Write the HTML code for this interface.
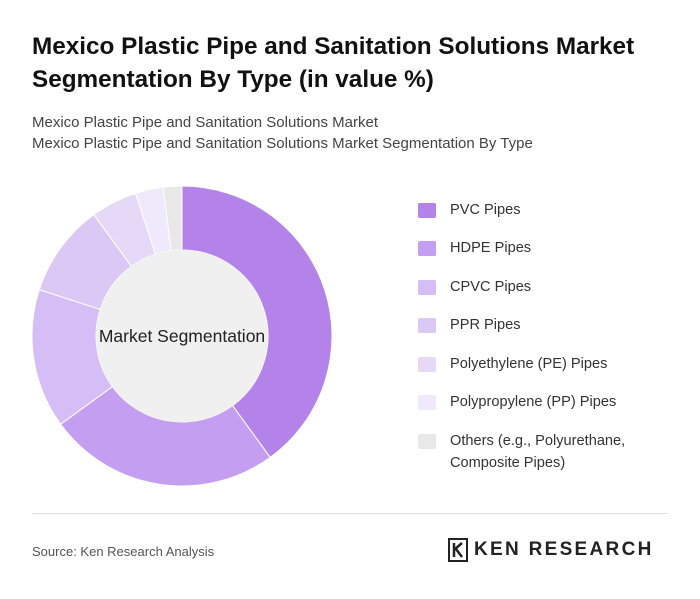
<!DOCTYPE html>
<html><head><meta charset="utf-8"><style>
body{margin:0;background:#fff;font-family:"Liberation Sans",sans-serif;}
#root{position:relative;width:700px;height:599px;overflow:hidden;background:#fff;}
h1{position:absolute;left:32px;top:30px;margin:0;font-size:24.3px;line-height:33px;font-weight:bold;color:#111;width:650px;}
.sub{position:absolute;left:32px;font-size:15px;color:#444;}
.leg{position:absolute;left:418px;font-size:14.6px;color:#333;line-height:22px;}
.sw{position:absolute;left:0;top:4px;width:18px;height:15px;border-radius:2px;}
.leg span.t{margin-left:32px;display:block;}
</style></head><body>
<div id="root">
<h1>Mexico Plastic Pipe and Sanitation Solutions Market Segmentation By Type (in value %)</h1>
<div class="sub" style="top:114px">Mexico Plastic Pipe and Sanitation Solutions Market</div>
<div class="sub" style="top:135px">Mexico Plastic Pipe and Sanitation Solutions Market Segmentation By Type</div>
<svg id="donut" width="700" height="599" style="position:absolute;left:0;top:0"></svg>
<div id="legend"></div>
<div style="position:absolute;left:32px;top:513px;width:636px;height:1px;background:#ddd"></div>
<div style="position:absolute;left:32px;top:544px;font-size:13px;color:#555">Source: Ken Research Analysis</div>
<div style="position:absolute;left:448px;top:538px;height:24px;display:flex;align-items:center">
<svg width="20" height="24"><rect x="1" y="1" width="18" height="22" fill="none" stroke="#222" stroke-width="2"/><path d="M6 5V19M6 12L14 5M8 11L14 19" stroke="#222" stroke-width="2.5" fill="none"/></svg>
<span style="margin-left:6px;font-size:19px;font-weight:bold;color:#222;letter-spacing:2.3px">KEN RESEARCH</span></div>
</div>
<script>
const categories=["PVC Pipes","HDPE Pipes","CPVC Pipes","PPR Pipes","Polyethylene (PE) Pipes","Polypropylene (PP) Pipes","Others (e.g., Polyurethane, Composite Pipes)"];
const values=[40,25,15,10,5,3,2];
const colors=["#b383ea","#c49ef0","#d5bdf5","#dcc8f5","#e6d9f8","#f0e8fb","#e8e8e8"];
const svg=document.getElementById('donut');
const NS="http://www.w3.org/2000/svg";
const cx=182,cy=336,R=150,r=86;
const total=values.reduce((a,b)=>a+b,0);
function pt(a,rad){return [cx+rad*Math.sin(a),cy-rad*Math.cos(a)];}
let acc=0;
values.forEach((v,i)=>{
 const a0=acc/total*2*Math.PI;acc+=v;const a1=acc/total*2*Math.PI;
 const lg=(a1-a0)>Math.PI?1:0;
 const [x0,y0]=pt(a0,R),[x1,y1]=pt(a1,R),[x2,y2]=pt(a1,r),[x3,y3]=pt(a0,r);
 const p=document.createElementNS(NS,'path');
 p.setAttribute('d',`M${x0},${y0}A${R},${R} 0 ${lg} 1 ${x1},${y1}L${x2},${y2}A${r},${r} 0 ${lg} 0 ${x3},${y3}Z`);
 p.setAttribute('fill',colors[i]);p.setAttribute('stroke','#fff');p.setAttribute('stroke-width','1');
 
 
 svg.appendChild(p);
});
const c=document.createElementNS(NS,'circle');
c.setAttribute('cx',cx);c.setAttribute('cy',cy);c.setAttribute('r',r);c.setAttribute('fill','#f0f0f0');


svg.appendChild(c);
const t=document.createElementNS(NS,'text');
t.setAttribute('x',cx);t.setAttribute('y',cy+6);t.setAttribute('text-anchor','middle');
t.setAttribute('font-size','17.5');t.setAttribute('fill','#222');t.setAttribute('font-family','Liberation Sans, sans-serif');
t.textContent='Market Segmentation';


svg.appendChild(t);
const lg=document.getElementById('legend');
const tops=[199,237,276,314,353,391,430];
categories.forEach((n,i)=>{
 const d=document.createElement('div');d.className='leg';d.style.top=tops[i]+'px';
 d.style.width='260px';
 d.innerHTML='<div class="sw" style="background:'+colors[i]+'"></div><span class="t">'+(i==6?'Others (e.g., Polyurethane,<br>Composite Pipes)':n)+'</span>';
 
 
 lg.appendChild(d);
});
</script>
</body></html>
